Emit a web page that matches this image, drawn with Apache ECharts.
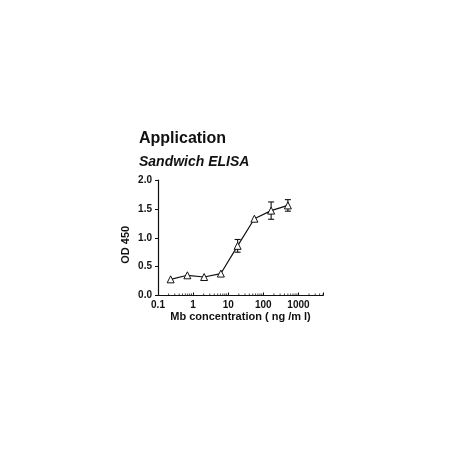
<!DOCTYPE html>
<html>
<head>
<meta charset="utf-8">
<script src="https://cdn.jsdelivr.net/npm/echarts@6/dist/echarts.min.js"></script>
<style>
  html, body { margin: 0; padding: 0; background: #fff; }
  #chart { width: 458px; height: 458px; }
</style>
</head>
<body>
<div id="chart"></div>
<script>
// Mb concentration (ng/ml), 3-fold dilutions
const conc = [0.229, 0.686, 2.06, 6.17, 18.5, 55.6, 166.7, 500];
const od450 = [0.28, 0.35, 0.32, 0.38, 0.86, 1.33, 1.47, 1.56];
const odErr = [0, 0, 0, 0, 0.11, 0, 0.15, 0.10];

const xTickLabels = ["0.1", "1", "10", "100", "1000"];
const yTickLabels = ["0.0", "0.5", "1.0", "1.5", "2.0"];
const minorDecades = [0.1, 1, 10, 100, 1000];
const minorSteps = [2, 3, 4, 5, 6, 7, 8, 9];

const font = "'Liberation Sans', Arial, sans-serif";
const chart = echarts.init(document.getElementById("chart"), null, { renderer: "canvas" });

// log minor ticks (2..9 per decade), stopping at the axis end
const minorTicks = [];
minorDecades.forEach((d) => {
  minorSteps.forEach((s) => {
    const v = d * s;
    if (v <= 5000) minorTicks.push([v, 0]);
  });
});

chart.setOption({
  animation: false,
  title: {
    text: "Application",
    subtext: "Sandwich ELISA",
    left: 139,
    top: 131,
    padding: 0,
    itemGap: 8,
    textStyle: { fontFamily: font, fontSize: 16, fontWeight: "bold", color: "#111" },
    subtextStyle: { fontFamily: font, fontSize: 14, fontWeight: "bold", fontStyle: "italic", color: "#111" },
  },
  grid: { left: 158, top: 180, width: 165, height: 115.5 },
  xAxis: {
    type: "log",
    logBase: 10,
    min: 0.1,
    max: 5000,
    name: "Mb concentration ( ng /m l)",
    nameLocation: "middle",
    nameGap: 16,
    nameTextStyle: { fontFamily: font, fontSize: 11, fontWeight: "bold", color: "#111" },
    axisLine: { lineStyle: { color: "#111", width: 1.2 } },
    axisTick: { inside: true, length: 3, lineStyle: { color: "#111", width: 1 } },
    splitLine: { show: false },
    axisLabel: {
      fontFamily: font, fontSize: 10, fontWeight: "bold", color: "#111", margin: 5,
      formatter: (v) => {
        const e = Math.log10(v);
        if (Math.abs(e - Math.round(e)) > 1e-6) return "";
        return xTickLabels[Math.round(e) + 1] || "";
      },
    },
  },
  yAxis: {
    type: "value",
    min: 0,
    max: 2,
    interval: 0.5,
    name: "OD 450",
    nameLocation: "middle",
    nameGap: 27,
    nameTextStyle: { fontFamily: font, fontSize: 11, fontWeight: "bold", color: "#111", padding: [0, 0, 0, -14] },
    axisLine: { show: true, lineStyle: { color: "#111", width: 1.2 } },
    axisTick: { show: true, length: 3, lineStyle: { color: "#111", width: 1 } },
    splitLine: { show: false },
    axisLabel: {
      fontFamily: font, fontSize: 10, fontWeight: "bold", color: "#111", margin: 6,
      formatter: (v) => yTickLabels[Math.round(v / 0.5)],
    },
  },
  series: [
    {
      type: "line",
      data: conc.map((c, i) => [c, od450[i]]),
      symbol: "triangle",
      symbolSize: 7,
      lineStyle: { color: "#111", width: 1.2 },
      itemStyle: { color: "#fff", borderColor: "#111", borderWidth: 1 },
      z: 3,
    },
    {
      type: "custom",
      data: conc.map((c, i) => [c, od450[i], odErr[i]]),
      renderItem: (params, api) => {
        const err = api.value(2);
        if (!err) return null;
        const x = api.value(0), y = api.value(1);
        const top = api.coord([x, y + err]);
        const bot = api.coord([x, y - err]);
        const cap = 3;
        const style = { stroke: "#111", lineWidth: 1.1 };
        return {
          type: "group",
          children: [
            { type: "line", shape: { x1: top[0], y1: top[1], x2: bot[0], y2: bot[1] }, style },
            { type: "line", shape: { x1: top[0] - cap, y1: top[1], x2: top[0] + cap, y2: top[1] }, style },
            { type: "line", shape: { x1: bot[0] - cap, y1: bot[1], x2: bot[0] + cap, y2: bot[1] }, style },
          ],
        };
      },
      z: 2,
    },
    {
      type: "custom",
      data: minorTicks,
      clip: false,
      renderItem: (params, api) => {
        const p = api.coord([api.value(0), 0]);
        return {
          type: "line",
          shape: { x1: p[0], y1: p[1], x2: p[0], y2: p[1] - 2 },
          style: { stroke: "#111", lineWidth: 0.8 },
        };
      },
      z: 1,
    },
  ],
});
</script>
</body>
</html>
